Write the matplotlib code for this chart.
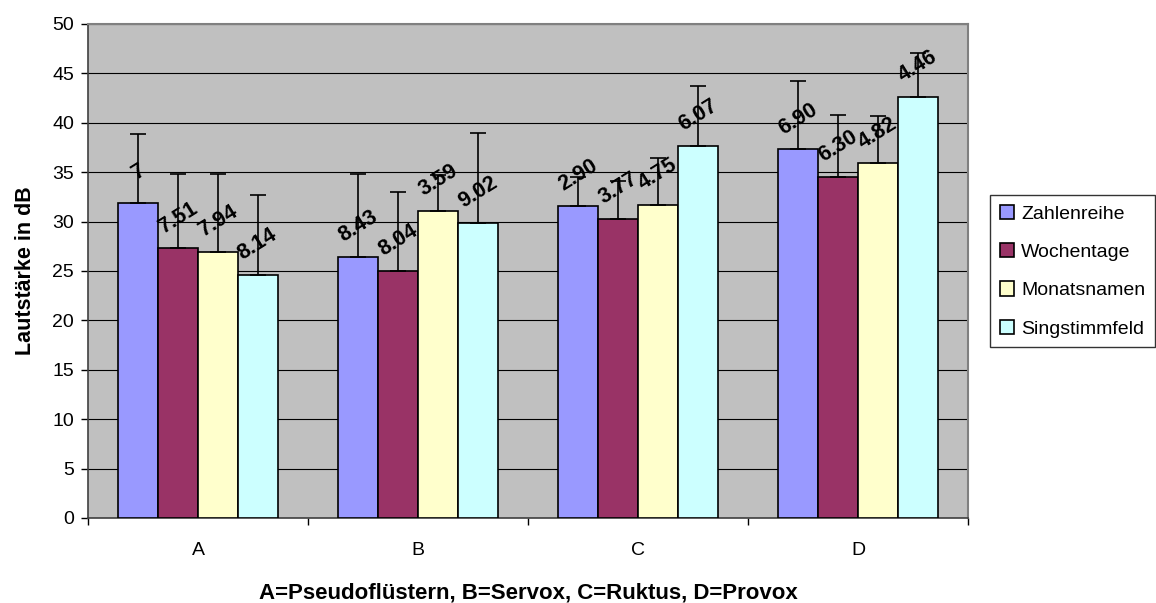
import matplotlib
matplotlib.use("Agg")
import matplotlib.pyplot as plt
import numpy as np

plt.rcParams['font.family'] = ['Liberation Sans', 'DejaVu Sans']

categories = ["A", "B", "C", "D"]
series = ["Zahlenreihe", "Wochentage", "Monatsnamen", "Singstimmfeld"]
colors = ["#9999FF", "#993366", "#FFFFCC", "#CCFFFF"]

zahlenreihe = [31.9, 26.4, 31.6, 37.3]
wochentage = [27.3, 25.0, 30.3, 34.5]
monatsnamen = [26.9, 31.1, 31.7, 35.9]
singstimmfeld = [24.6, 29.9, 37.7, 42.6]

sd_zahlenreihe = [7.00, 8.43, 2.90, 6.90]
sd_wochentage = [7.51, 8.04, 3.77, 6.30]
sd_monatsnamen = [7.94, 3.59, 4.75, 4.82]
sd_singstimmfeld = [8.14, 9.02, 6.07, 4.46]

lab_zahlenreihe = ["7", "8.43", "2.90", "6.90"]
lab_wochentage = ["7.51", "8.04", "3.77", "6.30"]
lab_monatsnamen = ["7.94", "3.59", "4.75", "4.82"]
lab_singstimmfeld = ["8.14", "9.02", "6.07", "4.46"]

values = [zahlenreihe, wochentage, monatsnamen, singstimmfeld]
sds = [sd_zahlenreihe, sd_wochentage, sd_monatsnamen, sd_singstimmfeld]
labels = [lab_zahlenreihe, lab_wochentage, lab_monatsnamen, lab_singstimmfeld]

fig = plt.figure(figsize=(11.56, 6.03), dpi=100)
ax = fig.add_axes([88/1156, 1-518/603, (968-88)/1156, (518-24)/603])
ax.set_facecolor("#C0C0C0")

x = np.arange(len(categories))
w = 40/221
for i, (name, vals, sd, lab, c) in enumerate(zip(series, values, sds, labels, colors)):
    pos = x + (i - 1.5) * w
    ax.bar(pos, vals, width=w, color=c, edgecolor="black", linewidth=1.2,
           label=name, zorder=3)
    ax.errorbar(pos, vals, yerr=[np.zeros(len(vals)), sd], fmt="none",
                ecolor="black", elinewidth=1.2, capsize=5.5, capthick=1.2, zorder=4)
    for px, v, t in zip(pos, vals, lab):
        ax.annotate(t, (px, v), xytext=(0, 22), textcoords="offset points",
                    ha="center", va="center", rotation=32, fontsize=15.5,
                    fontweight="bold", zorder=5)

ax.set_xlim(-0.5, 3.5)
ax.set_ylim(0, 50)
ax.set_yticks(np.arange(0, 51, 5))
ax.yaxis.grid(True, color="black", linewidth=0.8, zorder=0)
ax.set_axisbelow(True)
ax.tick_params(axis="y", direction="out", length=5, labelsize=14, width=1, pad=5)

ax.set_xticks(x)
ax.set_xticklabels(categories, fontsize=14)
ax.tick_params(axis="x", length=0, pad=17)
ax.set_xticks(np.arange(-0.5, 4.0, 1.0), minor=True)
ax.tick_params(axis="x", which="minor", direction="out", length=5, width=1)

for s in ["top", "right"]:
    ax.spines[s].set_color("#808080")
    ax.spines[s].set_linewidth(1.5)
for s in ["left", "bottom"]:
    ax.spines[s].set_color("#404040")
    ax.spines[s].set_linewidth(1.2)

ax.set_ylabel("Lautstärke in dB", fontsize=15.5, fontweight="bold", labelpad=12)
ax.set_xlabel("A=Pseudoflüstern, B=Servox, C=Ruktus, D=Provox", fontsize=16,
              fontweight="bold", labelpad=17)

leg = ax.legend(loc="upper left", bbox_to_anchor=(990/1156, 1-195/603),
                bbox_transform=fig.transFigure, fontsize=14, frameon=True,
                fancybox=False, edgecolor="black", handlelength=0.75,
                handleheight=0.75, handletextpad=0.35, labelspacing=1.05,
                borderpad=0.5, borderaxespad=0)
leg.get_frame().set_linewidth(1.0)

fig.savefig("out.png", dpi=100)
